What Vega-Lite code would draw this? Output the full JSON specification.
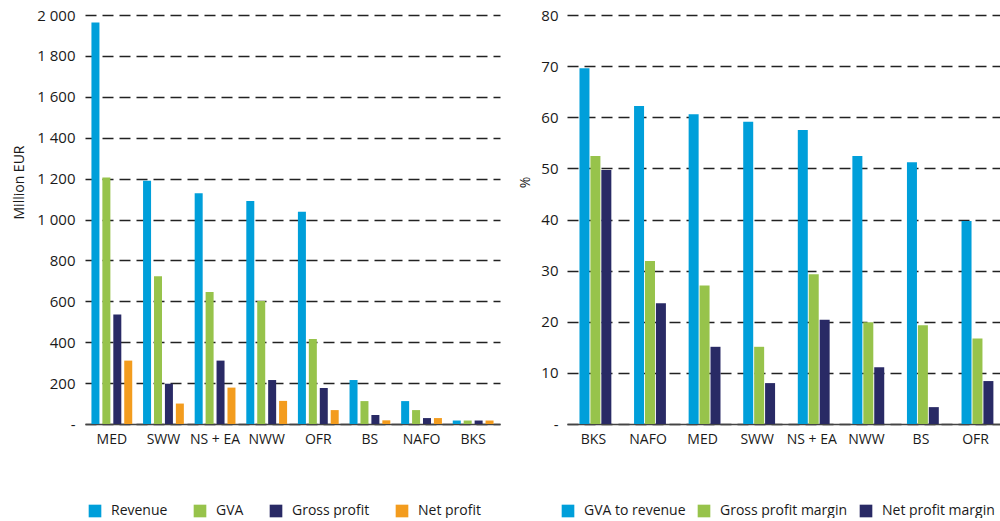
{
  "$schema": "https://vega.github.io/schema/vega-lite/v6.json",
  "background": "white",
  "padding": {"left": 12, "top": 8, "right": 0, "bottom": 0},
  "spacing": 18,
  "config": {
    "font": "Open Sans",
    "view": {"stroke": null},
    "axis": {"labelFont": "Open Sans", "titleFont": "Open Sans", "labelColor": "#1a1a1a", "titleColor": "#1a1a1a"},
    "legend": {"labelFont": "Open Sans"}
  },
  "datasets": {
    "econ": [
      {"region": "MED", "series": "Revenue", "value": 1963},
      {"region": "MED", "series": "GVA", "value": 1205},
      {"region": "MED", "series": "Gross profit", "value": 535},
      {"region": "MED", "series": "Net profit", "value": 310},
      {"region": "SWW", "series": "Revenue", "value": 1190},
      {"region": "SWW", "series": "GVA", "value": 722},
      {"region": "SWW", "series": "Gross profit", "value": 197},
      {"region": "SWW", "series": "Net profit", "value": 100},
      {"region": "NS + EA", "series": "Revenue", "value": 1128},
      {"region": "NS + EA", "series": "GVA", "value": 645},
      {"region": "NS + EA", "series": "Gross profit", "value": 310},
      {"region": "NS + EA", "series": "Net profit", "value": 178},
      {"region": "NWW", "series": "Revenue", "value": 1090},
      {"region": "NWW", "series": "GVA", "value": 602},
      {"region": "NWW", "series": "Gross profit", "value": 215},
      {"region": "NWW", "series": "Net profit", "value": 113},
      {"region": "OFR", "series": "Revenue", "value": 1038},
      {"region": "OFR", "series": "GVA", "value": 416},
      {"region": "OFR", "series": "Gross profit", "value": 176},
      {"region": "OFR", "series": "Net profit", "value": 68},
      {"region": "BS", "series": "Revenue", "value": 215},
      {"region": "BS", "series": "GVA", "value": 112},
      {"region": "BS", "series": "Gross profit", "value": 44},
      {"region": "BS", "series": "Net profit", "value": 18},
      {"region": "NAFO", "series": "Revenue", "value": 112},
      {"region": "NAFO", "series": "GVA", "value": 68},
      {"region": "NAFO", "series": "Gross profit", "value": 29},
      {"region": "NAFO", "series": "Net profit", "value": 29},
      {"region": "BKS", "series": "Revenue", "value": 17},
      {"region": "BKS", "series": "GVA", "value": 17},
      {"region": "BKS", "series": "Gross profit", "value": 17},
      {"region": "BKS", "series": "Net profit", "value": 17}
    ],
    "ratios": [
      {"region": "BKS", "series": "GVA to revenue", "value": 69.6},
      {"region": "BKS", "series": "Gross profit margin", "value": 52.4},
      {"region": "BKS", "series": "Net profit margin", "value": 49.7},
      {"region": "NAFO", "series": "GVA to revenue", "value": 62.2},
      {"region": "NAFO", "series": "Gross profit margin", "value": 31.9},
      {"region": "NAFO", "series": "Net profit margin", "value": 23.6},
      {"region": "MED", "series": "GVA to revenue", "value": 60.6},
      {"region": "MED", "series": "Gross profit margin", "value": 27.1},
      {"region": "MED", "series": "Net profit margin", "value": 15.1},
      {"region": "SWW", "series": "GVA to revenue", "value": 59.1},
      {"region": "SWW", "series": "Gross profit margin", "value": 15.1},
      {"region": "SWW", "series": "Net profit margin", "value": 8.0},
      {"region": "NS + EA", "series": "GVA to revenue", "value": 57.5},
      {"region": "NS + EA", "series": "Gross profit margin", "value": 29.3},
      {"region": "NS + EA", "series": "Net profit margin", "value": 20.4},
      {"region": "NWW", "series": "GVA to revenue", "value": 52.4},
      {"region": "NWW", "series": "Gross profit margin", "value": 19.9},
      {"region": "NWW", "series": "Net profit margin", "value": 11.1},
      {"region": "BS", "series": "GVA to revenue", "value": 51.2},
      {"region": "BS", "series": "Gross profit margin", "value": 19.3},
      {"region": "BS", "series": "Net profit margin", "value": 3.3},
      {"region": "OFR", "series": "GVA to revenue", "value": 39.7},
      {"region": "OFR", "series": "Gross profit margin", "value": 16.7},
      {"region": "OFR", "series": "Net profit margin", "value": 8.4}
    ]
  },
  "resolve": {"scale": {"color": "independent"}, "legend": {"color": "independent"}},
  "hconcat": [
    {
      "width": 415,
      "height": 409,
      "data": {"name": "econ"},
      "mark": {"type": "bar", "width": 8},
      "encoding": {
        "x": {
          "field": "region", "type": "nominal",
          "sort": ["MED", "SWW", "NS + EA", "NWW", "OFR", "BS", "NAFO", "BKS"],
          "scale": {"paddingInner": 0.28, "paddingOuter": 0.16},
          "axis": {"title": null, "labelAngle": 0, "ticks": false, "domainColor": "#444", "domainWidth": 1.5, "labelFontSize": 14, "labelPadding": 8, "grid": false}
        },
        "xOffset": {
          "field": "series", "type": "nominal",
          "sort": ["Revenue", "GVA", "Gross profit", "Net profit"],
          "scale": {"paddingInner": 0.2, "paddingOuter": 0}
        },
        "y": {
          "field": "value", "type": "quantitative",
          "scale": {"domain": [0, 2000], "nice": false},
          "axis": {
            "title": "Million EUR", "titleFontSize": 14, "titleFontWeight": "normal", "titlePadding": 10, "titleY": 167,
            "values": [0, 200, 400, 600, 800, 1000, 1200, 1400, 1600, 1800, 2000],
            "labelExpr": "datum.value == 0 ? '-' : replace(format(datum.value, ','), ',', ' ')",
            "labelFontSize": 15, "labelPadding": 10, "ticks": false, "domain": false,
            "grid": true, "gridColor": "#222", "gridDash": [11, 6], "gridWidth": 1.6
          }
        },
        "color": {
          "field": "series", "type": "nominal",
          "sort": ["Revenue", "GVA", "Gross profit", "Net profit"],
          "scale": {"domain": ["Revenue", "GVA", "Gross profit", "Net profit"], "range": ["#009FDA", "#97C34B", "#292A65", "#F39C1E"]},
          "legend": {
            "title": null, "orient": "none", "legendX": 3, "legendY": 489, "direction": "horizontal",
            "symbolType": "square", "symbolSize": 160, "symbolStrokeWidth": 0, "labelFontSize": 14, "labelColor": "#1a1a1a",
            "labelOffset": 9, "columnPadding": 25
          }
        }
      }
    },
    {
      "width": 435,
      "height": 409,
      "data": {"name": "ratios"},
      "mark": {"type": "bar", "width": 10},
      "encoding": {
        "x": {
          "field": "region", "type": "nominal",
          "sort": ["BKS", "NAFO", "MED", "SWW", "NS + EA", "NWW", "BS", "OFR"],
          "scale": {"paddingInner": 0.39, "paddingOuter": 0.18},
          "axis": {"title": null, "labelAngle": 0, "ticks": false, "domainColor": "#444", "domainWidth": 1.5, "labelFontSize": 14, "labelPadding": 8, "grid": false}
        },
        "xOffset": {
          "field": "series", "type": "nominal",
          "sort": ["GVA to revenue", "Gross profit margin", "Net profit margin"],
          "scale": {"paddingInner": 0.13, "paddingOuter": 0}
        },
        "y": {
          "field": "value", "type": "quantitative",
          "scale": {"domain": [0, 80], "nice": false},
          "axis": {
            "title": "%", "titleFontSize": 14, "titleFontWeight": "normal", "titlePadding": 8, "titleY": 167,
            "values": [0, 10, 20, 30, 40, 50, 60, 70, 80],
            "labelExpr": "datum.value == 0 ? '-' : format(datum.value, 'd')",
            "labelFontSize": 15, "labelPadding": 9, "ticks": false, "domain": false,
            "grid": true, "gridColor": "#222", "gridDash": [11, 6], "gridWidth": 1.6
          }
        },
        "color": {
          "field": "series", "type": "nominal",
          "sort": ["GVA to revenue", "Gross profit margin", "Net profit margin"],
          "scale": {"domain": ["GVA to revenue", "Gross profit margin", "Net profit margin"], "range": ["#009FDA", "#97C34B", "#292A65"]},
          "legend": {
            "title": null, "orient": "none", "legendX": -6, "legendY": 489, "direction": "horizontal",
            "symbolType": "square", "symbolSize": 160, "symbolStrokeWidth": 0, "labelFontSize": 14, "labelColor": "#1a1a1a",
            "labelOffset": 9, "columnPadding": 11
          }
        }
      }
    }
  ]
}
